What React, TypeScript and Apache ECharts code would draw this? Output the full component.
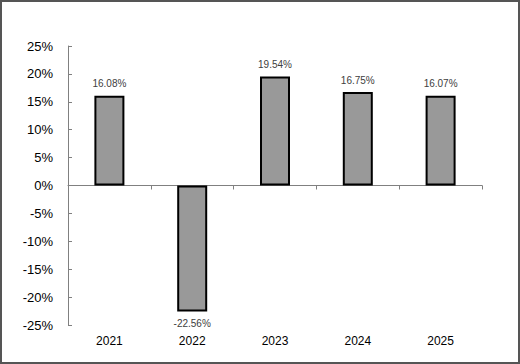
import React, { useEffect, useRef } from "react";
import * as echarts from "echarts";

const categories = ["2021", "2022", "2023", "2024", "2025"];
const returns = [16.08, -22.56, 19.54, 16.75, 16.07];
const yMin = -25;
const yMax = 25;
const yStep = 5;

export default function App() {
  const ref = useRef<HTMLDivElement>(null);
  useEffect(() => {
    document.body.style.margin = "0";
    const chart = echarts.init(ref.current!, null, { renderer: "svg" });
    const font = "Arial, 'Liberation Sans', sans-serif";
    chart.setOption({
      animation: false,
      backgroundColor: "#ffffff",
      grid: { left: 68, right: 38, top: 46, bottom: 39, containLabel: false },
      graphic: [
        {
          type: "rect",
          shape: { x: 1, y: 1, width: 518, height: 362 },
          style: { fill: "none", stroke: "#555555", lineWidth: 2 },
          silent: true,
        },
      ],
      xAxis: [
        {
          type: "category",
          data: categories,
          axisLine: { onZero: true, lineStyle: { color: "#808080", width: 1 } },
          axisTick: { show: true, length: 4, lineStyle: { color: "#808080" } },
          axisLabel: { show: false },
        },
        {
          type: "category",
          data: categories,
          position: "bottom",
          axisLine: { show: false, onZero: false },
          axisTick: { show: false },
          axisLabel: {
            show: true,
            margin: 10,
            color: "#000000",
            fontSize: 12,
            fontFamily: font,
          },
        },
      ],
      yAxis: {
        type: "value",
        min: yMin,
        max: yMax,
        interval: yStep,
        axisLine: { show: true, lineStyle: { color: "#808080", width: 1 } },
        axisTick: { show: true, inside: true, length: 4, lineStyle: { color: "#808080" } },
        splitLine: { show: false },
        axisLabel: {
          margin: 15,
          color: "#000000",
          fontSize: 13,
          fontFamily: font,
          formatter: (v: number) => `${v}%`,
        },
      },
      series: [
        {
          type: "bar",
          xAxisIndex: 0,
          barWidth: 30,
          data: returns.map((v) => ({
            value: v,
            label: { position: v < 0 ? "bottom" : "top" },
          })),
          itemStyle: { color: "#999999", borderColor: "#000000", borderWidth: 2 },
          label: {
            show: true,
            distance: 7,
            color: "#404040",
            fontSize: 10,
            fontFamily: font,
            formatter: (p: any) => `${Number(p.value).toFixed(2)}%`,
          },
        },
      ],
    });
    return () => chart.dispose();
  }, []);
  return <div ref={ref} style={{ width: 520, height: 364 }} />;
}
